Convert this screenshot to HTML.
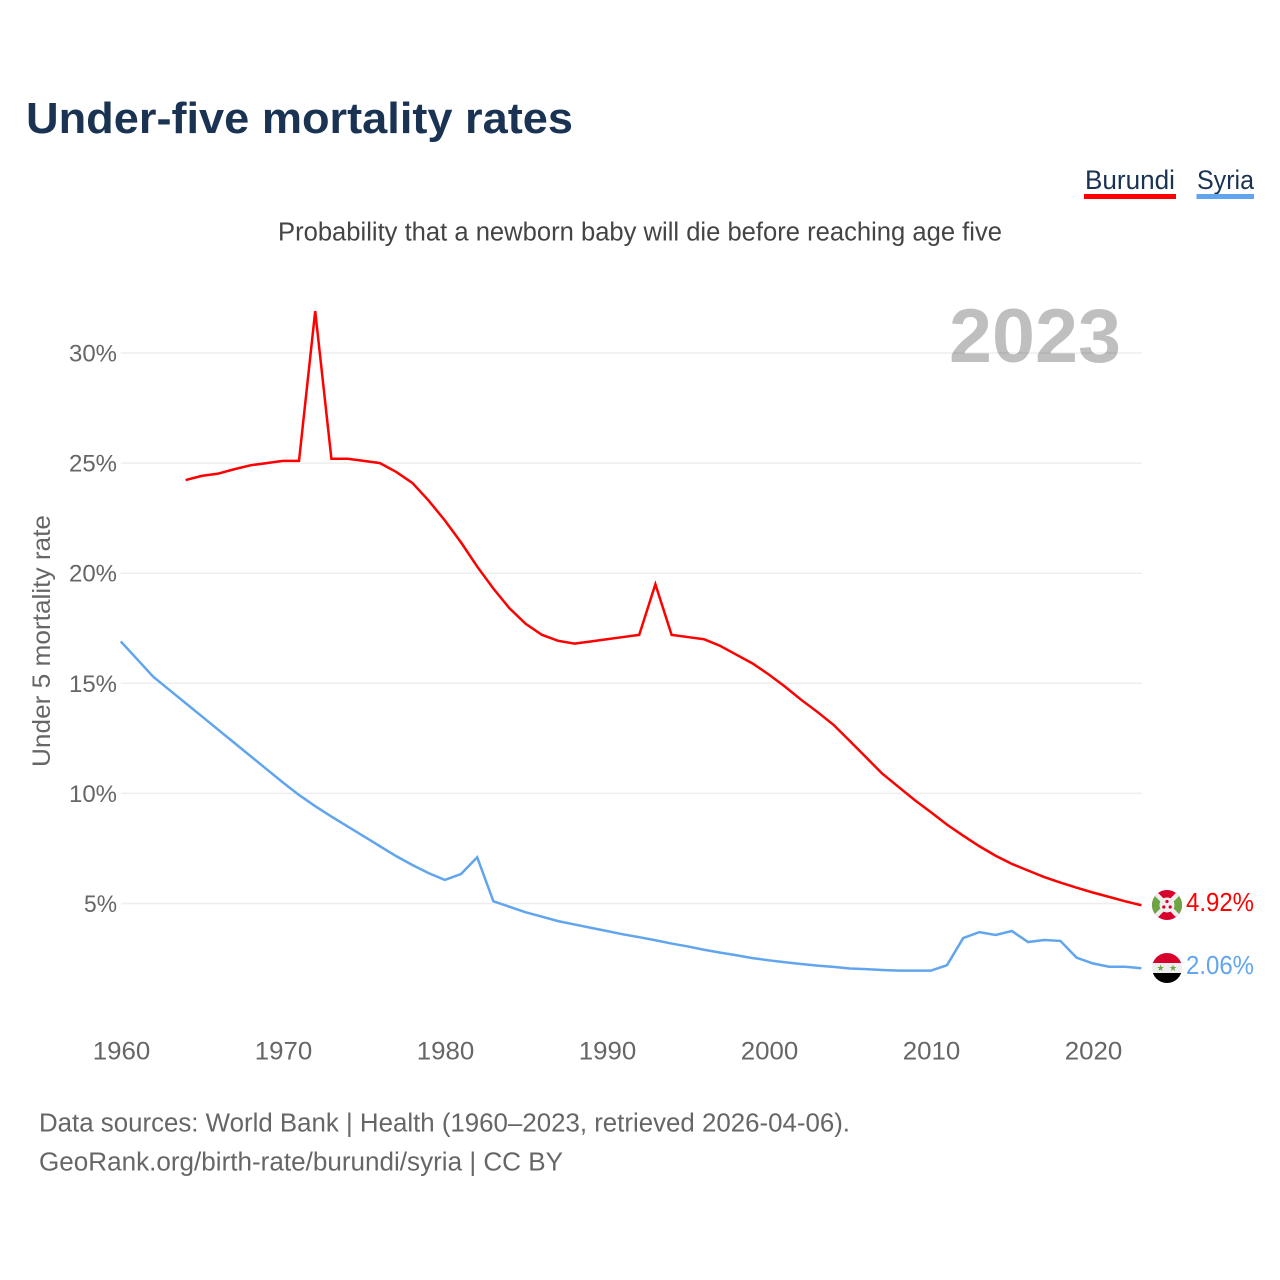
<!DOCTYPE html>
<html lang="en">
<head>
<meta charset="utf-8">
<title>Under-five mortality rates</title>
<style>
html,body{margin:0;padding:0;background:#fff;}
svg{display:block;font-family:"Liberation Sans",sans-serif;}
</style>
</head>
<body>
<svg id="chart" width="1280" height="1280" viewBox="0 0 1280 1280" xmlns="http://www.w3.org/2000/svg">
  <defs>
    <clipPath id="clip-b"><circle cx="1167" cy="905" r="15"/></clipPath>
    <clipPath id="clip-s"><circle cx="1167" cy="968" r="15"/></clipPath>
  </defs>
  <rect width="1280" height="1280" fill="#fff"/>
  <text x="26" y="133" font-size="44" font-weight="700" fill="#1a3353" textLength="547" lengthAdjust="spacingAndGlyphs">Under-five mortality rates</text>

  <g>
    <text x="1085" y="189" font-size="27" fill="#1a3353" textLength="90" lengthAdjust="spacingAndGlyphs">Burundi</text>
    <rect x="1084" y="194" width="92" height="5" fill="#ff0000"/>
  </g>
  <g>
    <text x="1197" y="189" font-size="27" fill="#1a3353" textLength="57" lengthAdjust="spacingAndGlyphs">Syria</text>
    <rect x="1196.5" y="194" width="57.5" height="5" fill="#60a5ee"/>
  </g>

  <text x="278" y="240.5" font-size="25.5" fill="#444" textLength="724" lengthAdjust="spacingAndGlyphs">Probability that a newborn baby will die before reaching age five</text>
  <text transform="translate(50,767) rotate(-90)" x="0" y="0" font-size="25" fill="#666" textLength="252" lengthAdjust="spacingAndGlyphs">Under 5 mortality rate</text>

  <g id="grid"></g>
  <text x="949" y="362" font-size="76" font-weight="700" fill="#000000" fill-opacity="0.25" textLength="172" lengthAdjust="spacingAndGlyphs">2023</text>
  <g id="y-ticks"></g>
  <g id="x-ticks"></g>
  <g id="lines"></g>

  <g clip-path="url(#clip-b)">
    <rect x="1152" y="890" width="30" height="30" fill="#d8002c"/>
    <polygon points="1152,890 1167,905 1152,920" fill="#6da544"/>
    <polygon points="1182,890 1167,905 1182,920" fill="#6da544"/>
    <line x1="1152" y1="890" x2="1182" y2="920" stroke="#eeeeee" stroke-width="4.5"/>
    <line x1="1182" y1="890" x2="1152" y2="920" stroke="#eeeeee" stroke-width="4.5"/>
    <circle cx="1167" cy="905" r="7.5" fill="#eeeeee"/>
    <circle cx="1167" cy="901.5" r="1.6" fill="#d8002c"/>
    <circle cx="1163.8" cy="907" r="1.6" fill="#d8002c"/>
    <circle cx="1170.2" cy="907" r="1.6" fill="#d8002c"/>
  </g>
  <g clip-path="url(#clip-s)">
    <rect x="1152" y="953" width="30" height="10" fill="#d8002c"/>
    <rect x="1152" y="963" width="30" height="10" fill="#eeeeee"/>
    <rect x="1152" y="973" width="30" height="10" fill="#000000"/>
    <text x="1160.5" y="971" font-size="9" text-anchor="middle" fill="#6da544" font-family="'DejaVu Sans',sans-serif">★</text>
    <text x="1173" y="971" font-size="9" text-anchor="middle" fill="#6da544" font-family="'DejaVu Sans',sans-serif">★</text>
  </g>
  <text x="1186" y="911" font-size="25.5" fill="#ff0000" textLength="68" lengthAdjust="spacingAndGlyphs">4.92%</text>
  <text x="1186" y="974" font-size="25.5" fill="#60a5ee" textLength="68" lengthAdjust="spacingAndGlyphs">2.06%</text>

  <text x="39" y="1131.5" font-size="25.5" fill="#666" textLength="811" lengthAdjust="spacingAndGlyphs">Data sources: World Bank | Health (1960–2023, retrieved 2026-04-06).</text>
  <text x="39" y="1170.5" font-size="25.5" fill="#666" textLength="524" lengthAdjust="spacingAndGlyphs">GeoRank.org/birth-rate/burundi/syria | CC BY</text>
</svg>
<script>
const yTickValues = [5, 10, 15, 20, 25, 30];
const xTickYears = [1960, 1970, 1980, 1990, 2000, 2010, 2020];
const burundiStartYear = 1964;
const burundiValues = [24.23, 24.42, 24.52, 24.72, 24.9, 25.0, 25.1, 25.1, 31.9, 25.2, 25.2, 25.1, 25.0, 24.6, 24.1, 23.3, 22.4, 21.4, 20.3, 19.3, 18.4, 17.7, 17.2, 16.93, 16.8, 16.9, 17.0, 17.1, 17.2, 19.5, 17.2, 17.1, 17.0, 16.7, 16.3, 15.9, 15.4, 14.85, 14.25, 13.7, 13.11, 12.38, 11.64, 10.9, 10.3, 9.7, 9.15, 8.58, 8.08, 7.6, 7.17, 6.8, 6.5, 6.2, 5.95, 5.72, 5.5, 5.3, 5.1, 4.92];
const syriaStartYear = 1960;
const syriaValues = [16.9, 16.1, 15.3, 14.7, 14.1, 13.5, 12.9, 12.3, 11.7, 11.1, 10.5, 9.93, 9.42, 8.95, 8.5, 8.05, 7.6, 7.15, 6.75, 6.38, 6.07, 6.34, 7.1, 5.1, 4.85, 4.6, 4.4, 4.2, 4.05, 3.9, 3.75, 3.6, 3.47, 3.33, 3.18, 3.05, 2.9, 2.77, 2.65, 2.52, 2.42, 2.33, 2.25, 2.18, 2.12, 2.05, 2.02, 1.98, 1.95, 1.95, 1.95, 2.2, 3.43, 3.7, 3.57, 3.75, 3.25, 3.34, 3.3, 2.54, 2.28, 2.13, 2.13, 2.06];

const NS = 'http://www.w3.org/2000/svg';
function xScale(year) { return 120.8 + (year - 1960) * 16.2; }
function yScale(v) { return 903.5 - (v - 5) * 22.02; }
function linePoints(startYear, values) {
  return values.map(function (v, i) {
    return xScale(startYear + i).toFixed(2) + ',' + yScale(v).toFixed(2);
  }).join(' ');
}

const grid = document.getElementById('grid');
const yTicks = document.getElementById('y-ticks');
const xTicks = document.getElementById('x-ticks');
const lines = document.getElementById('lines');

yTickValues.forEach(function (v) {
  const ln = document.createElementNS(NS, 'line');
  
  
  ln.setAttribute('x1', xScale(1960));
  ln.setAttribute('x2', xScale(2023) + 0.6);
  ln.setAttribute('y1', yScale(v));
  ln.setAttribute('y2', yScale(v));
  ln.setAttribute('stroke', '#eeeeee');
  ln.setAttribute('stroke-width', '1.5');
  grid.appendChild(ln);

  const t = document.createElementNS(NS, 'text');
  
  
  const label = v + '%';
  t.textContent = label;
  const w = String(v).length * 15 + 18;
  t.setAttribute('x', 117 - w);
  t.setAttribute('y', yScale(v) + 8.5);
  t.setAttribute('font-size', '24.5');
  t.setAttribute('fill', '#666');
  t.setAttribute('textLength', w);
  t.setAttribute('lengthAdjust', 'spacingAndGlyphs');
  yTicks.appendChild(t);
});

xTickYears.forEach(function (yr) {
  const t = document.createElementNS(NS, 'text');
  
  
  t.textContent = yr;
  t.setAttribute('x', xScale(yr) - 28);
  t.setAttribute('y', 1059.5);
  t.setAttribute('font-size', '25');
  t.setAttribute('fill', '#666');
  t.setAttribute('textLength', '57.5');
  t.setAttribute('lengthAdjust', 'spacingAndGlyphs');
  xTicks.appendChild(t);
});

const burundiLine = document.createElementNS(NS, 'polyline');


burundiLine.setAttribute('points', linePoints(burundiStartYear, burundiValues));
burundiLine.setAttribute('fill', 'none');
burundiLine.setAttribute('stroke', '#ff0000');
burundiLine.setAttribute('stroke-width', '2.5');
lines.appendChild(burundiLine);

const syriaLine = document.createElementNS(NS, 'polyline');


syriaLine.setAttribute('points', linePoints(syriaStartYear, syriaValues));
syriaLine.setAttribute('fill', 'none');
syriaLine.setAttribute('stroke', '#60a5ee');
syriaLine.setAttribute('stroke-width', '2.5');
lines.appendChild(syriaLine);
</script>
</body>
</html>
